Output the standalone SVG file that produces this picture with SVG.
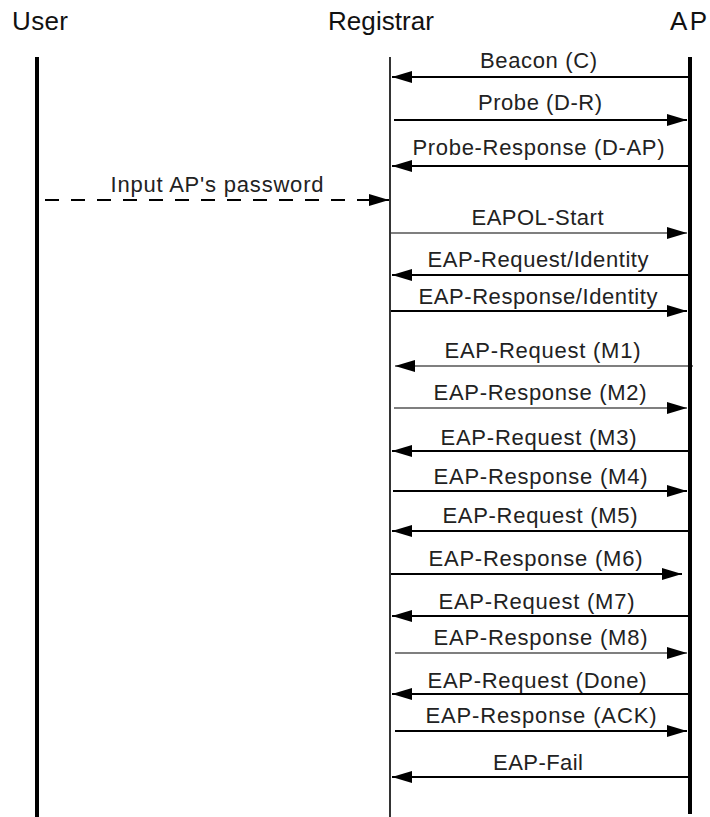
<svg xmlns="http://www.w3.org/2000/svg" width="710" height="817" viewBox="0 0 710 817">
<style>
.title{font-family:"Liberation Sans",Arial,sans-serif;font-size:26px;fill:#111}
.lbl{font-family:"Liberation Sans",Arial,sans-serif;font-size:22px;fill:#222;text-anchor:middle}
.life{stroke:#000;fill:none}
.msg{stroke:#000;stroke-width:2;fill:none;marker-end:url(#ah)}
.thin{stroke-width:1.2}
.dash{stroke-dasharray:14 12}
</style>
<defs>
<marker id="ah" markerUnits="userSpaceOnUse" markerWidth="20" markerHeight="12" refX="20" refY="6" orient="auto">
<path d="M0,0 L20,6 L0,12 z" fill="#000"/>
</marker>
</defs>
<rect width="710" height="817" fill="#fff"/>
<g id="user">
<text class="title" x="12" y="30" textLength="56">User</text>
<line class="life" x1="37" y1="57" x2="37" y2="817" stroke-width="4"/>
</g>
<g id="registrar">
<text class="title" x="328" y="30" textLength="106">Registrar</text>
<line class="life" x1="390" y1="57" x2="390" y2="817" stroke-width="1.6"/>
</g>
<g id="ap">
<text class="title" x="670" y="30" textLength="37">AP</text>
<line class="life" x1="690" y1="57" x2="690" y2="814" stroke-width="4"/>
</g>
<g id="connectors">
<line class="msg" x1="689" y1="77" x2="392" y2="77"/>
<text class="lbl" x="538.5" y="68" textLength="117">Beacon (C)</text>
<line class="msg" x1="394" y1="120" x2="687" y2="120"/>
<text class="lbl" x="540" y="110" textLength="124">Probe (D-R)</text>
<line class="msg" x1="689" y1="166" x2="392" y2="166"/>
<text class="lbl" x="538.5" y="155" textLength="252">Probe-Response (D-AP)</text>
<line class="msg dash" x1="45" y1="200" x2="389" y2="200"/>
<text class="lbl" x="217" y="192" textLength="213">Input AP's password</text>
<line class="msg thin" x1="391" y1="233" x2="687" y2="233"/>
<text class="lbl" x="537.5" y="225" textLength="132">EAPOL-Start</text>
<line class="msg" x1="689" y1="275" x2="392" y2="275"/>
<text class="lbl" x="538" y="267" textLength="221">EAP-Request/Identity</text>
<line class="msg" x1="391" y1="311" x2="687" y2="311"/>
<text class="lbl" x="538" y="304" textLength="239">EAP-Response/Identity</text>
<line class="msg thin" x1="693" y1="366" x2="395" y2="366"/>
<text class="lbl" x="542.5" y="358" textLength="196">EAP-Request (M1)</text>
<line class="msg thin" x1="394" y1="408" x2="687" y2="408"/>
<text class="lbl" x="540" y="400" textLength="213">EAP-Response (M2)</text>
<line class="msg" x1="689" y1="451" x2="392" y2="451"/>
<text class="lbl" x="538.5" y="445" textLength="196">EAP-Request (M3)</text>
<line class="msg" x1="393" y1="491" x2="687" y2="491"/>
<text class="lbl" x="540.5" y="484" textLength="214">EAP-Response (M4)</text>
<line class="msg" x1="689" y1="531" x2="392" y2="531"/>
<text class="lbl" x="540" y="523" textLength="195">EAP-Request (M5)</text>
<line class="msg" x1="391" y1="574" x2="682" y2="574"/>
<text class="lbl" x="535.5" y="566" textLength="214">EAP-Response (M6)</text>
<line class="msg" x1="689" y1="616" x2="392" y2="616"/>
<text class="lbl" x="536.5" y="609" textLength="196">EAP-Request (M7)</text>
<line class="msg thin" x1="395" y1="653" x2="687" y2="653"/>
<text class="lbl" x="540.5" y="645" textLength="214">EAP-Response (M8)</text>
<line class="msg" x1="689" y1="694" x2="392" y2="694"/>
<text class="lbl" x="537" y="688" textLength="219">EAP-Request (Done)</text>
<line class="msg" x1="395" y1="731" x2="687" y2="731"/>
<text class="lbl" x="541" y="723" textLength="231">EAP-Response (ACK)</text>
<line class="msg" x1="689" y1="777" x2="392" y2="777"/>
<text class="lbl" x="538" y="770" textLength="90">EAP-Fail</text>
</g>
</svg>
